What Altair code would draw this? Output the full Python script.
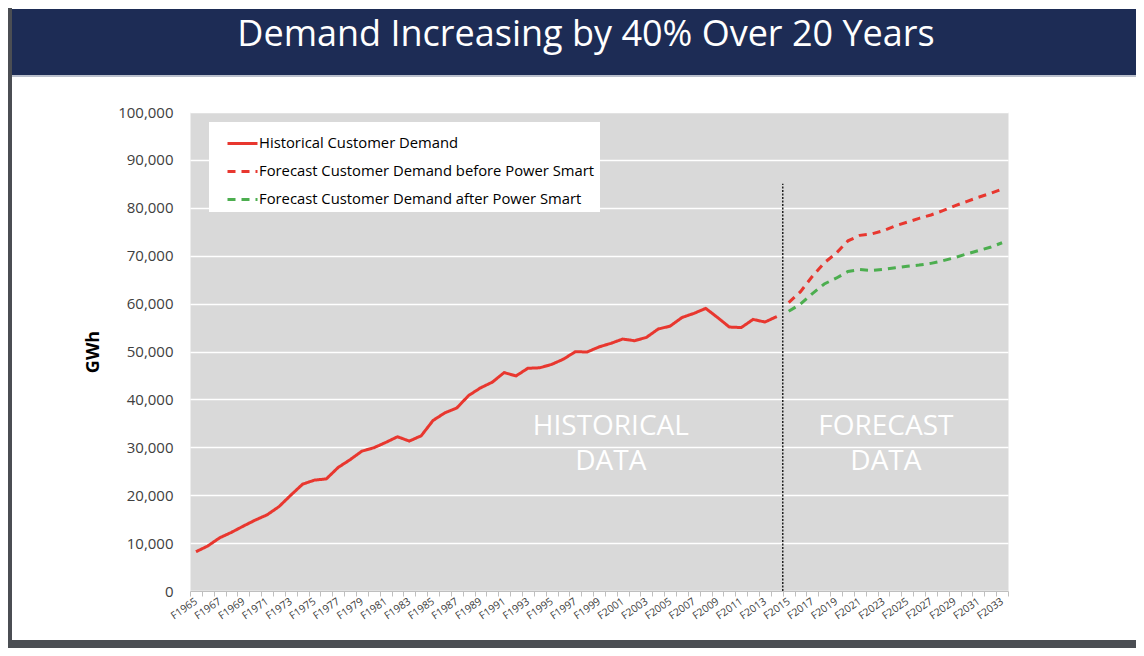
import altair as alt
import pandas as pd

# ---------------- data ----------------
hist_years = list(range(1965, 2015))
hist_values = [8200, 9400, 11100, 12250, 13550, 14800, 15900, 17600, 20000, 22300,
               23150, 23400, 25800, 27400, 29200, 29900, 31000, 32200, 31300, 32400,
               35600, 37200, 38200, 40800, 42400, 43600, 45600, 44900, 46500, 46600,
               47300, 48400, 49950, 49900, 50950, 51700, 52600, 52250, 52950, 54700,
               55300, 57100, 57950, 59000, 57100, 55100, 55000, 56700, 56150, 57300]
fc_years = list(range(2015, 2034))
fc_before = [60200, 62500, 65700, 68500, 70500, 73100, 74250, 74550, 75250, 76250,
             77000, 77800, 78500, 79400, 80400, 81300, 82200, 83000, 83900]
fc_after = [58400, 59900, 62100, 64100, 65300, 66700, 67100, 66900, 67150, 67500,
            67800, 68050, 68400, 68950, 69600, 70350, 71050, 71750, 72700]

series_names = ["Historical Customer Demand",
                "Forecast Customer Demand before Power Smart",
                "Forecast Customer Demand after Power Smart"]
series_colors = ["#e8372f", "#e8372f", "#4cae4f"]
series_dash = [[1, 0], [8, 6], [8, 6]]

axis_years = list(range(1965, 2035))
y_ticks = list(range(0, 100001, 10000))

divider_year = [2014.5]
divider_bottom = [0]
divider_top = [85000]

area_labels = ["HISTORICAL", "DATA", "FORECAST", "DATA"]
area_label_x = [2000, 2000, 2023.2, 2023.2]
area_label_y = [34250, 26950, 34250, 26950]

title_text = "Demand Increasing by 40% Over 20 Years"

# ---------------- styling ----------------
NAVY = "#1d2c55"
FRAME = "#4b4e53"
FONT = "Open Sans"
PLOT_W, PLOT_H = 818, 479
half_band = PLOT_W / (2034 - 1965) / 2

rows = []
for y, v in zip(hist_years, hist_values):
    rows.append({"year": y, "value": v, "series": series_names[0]})
for y, v in zip(fc_years, fc_before):
    rows.append({"year": y, "value": v, "series": series_names[1]})
for y, v in zip(fc_years, fc_after):
    rows.append({"year": y, "value": v, "series": series_names[2]})
df = pd.DataFrame(rows)

leg = alt.Legend(
    title=None, orient="none", legendX=19, legendY=10,
    fillColor="white", padding=5, symbolOffset=12,
    symbolType="stroke", symbolSize=900, symbolStrokeWidth=3,
    labelFont=FONT, labelFontSize=14.8, labelColor="#000000",
    labelLimit=600, labelOffset=0, rowPadding=4, zindex=1,
)

x_scale = alt.Scale(domain=[1964.5, 2033.5], nice=False, zero=False)
y_scale = alt.Scale(domain=[0, 100000], nice=False)

x_axis = alt.Axis(
    values=[y - 0.5 for y in axis_years],
    labelExpr="(datum.value + 0.5) % 2 == 1 ? 'F' + (datum.value + 0.5) : ''",
    labelAngle=-35, labelAlign="right", labelBaseline="middle",
    labelFont=FONT, labelFontSize=10.5, labelColor="#404040",
    labelOffset=half_band, labelPadding=4, labelOverlap=False, labelFlush=False,
    labelSeparation=0,
    grid=False, title=None, tickSize=5, tickColor="#bfbfbf", domainColor="#bfbfbf",
)
y_axis = alt.Axis(
    values=y_ticks, format=",d",
    labelFont=FONT, labelFontSize=15, labelColor="#404040", labelPadding=17,
    ticks=False, domain=False, gridColor="white", gridWidth=1.5,
    title="GWh", titleFont=FONT, titleFontSize=18, titleFontWeight="bold",
    titleColor="#000000", titleX=-97, titleY=PLOT_H / 2, titleBaseline="middle",
)

X = alt.X("year:Q", scale=x_scale, axis=x_axis)
Y = alt.Y("value:Q", scale=y_scale, axis=y_axis)

lines = alt.Chart(df).mark_line(strokeWidth=3).encode(
    x=X, y=Y,
    color=alt.Color("series:N", scale=alt.Scale(domain=series_names, range=series_colors), legend=leg),
    strokeDash=alt.StrokeDash("series:N", scale=alt.Scale(domain=series_names, range=series_dash), legend=leg),
)

div_df = pd.DataFrame({"year": divider_year, "value": divider_bottom, "value2": divider_top})
divider = alt.Chart(div_df).mark_rule(strokeDash=[2, 1.5], strokeWidth=1.5, color="#222222").encode(
    x=X, y=Y, y2="value2:Q"
)

lab_df = pd.DataFrame({"year": area_label_x, "value": area_label_y, "label": area_labels})
area_text = alt.Chart(lab_df).mark_text(
    font=FONT, fontSize=28, color="white", align="center", baseline="middle"
).encode(x=X, y=Y, text="label:N")

deco = pd.DataFrame({"t": [title_text]})
band = alt.Chart(deco).mark_rect(color=NAVY).encode(
    x=alt.value(-182), x2=alt.value(946), y=alt.value(-103), y2=alt.value(-37)
)
band_line = alt.Chart(deco).mark_rect(color="#b9bfcc").encode(
    x=alt.value(-182), x2=alt.value(946), y=alt.value(-37), y2=alt.value(-35)
)
left_bar = alt.Chart(deco).mark_rect(color=FRAME).encode(
    x=alt.value(-182), x2=alt.value(-178), y=alt.value(-104), y2=alt.value(536)
)
bottom_bar = alt.Chart(deco).mark_rect(color=FRAME).encode(
    x=alt.value(-182), x2=alt.value(946), y=alt.value(528), y2=alt.value(536)
)
title = alt.Chart(deco).mark_text(
    font=FONT, fontSize=36, color="white", align="center", baseline="alphabetic"
).encode(x=alt.value(396), y=alt.value(-66), text="t:N")

chart = alt.layer(
    lines, divider, area_text, band, band_line, left_bar, bottom_bar, title
).properties(
    width=PLOT_W, height=PLOT_H,
    padding={"left": 182, "top": 104, "right": 128, "bottom": 57},
    autosize=alt.AutoSizeParams(type="none"),
    background="white",
).configure_view(
    fill="#d9d9d9", stroke="transparent"
).configure_axisX(labelOverlap=False)

chart.save("out.html", embed_options={"renderer": "svg", "actions": False})
